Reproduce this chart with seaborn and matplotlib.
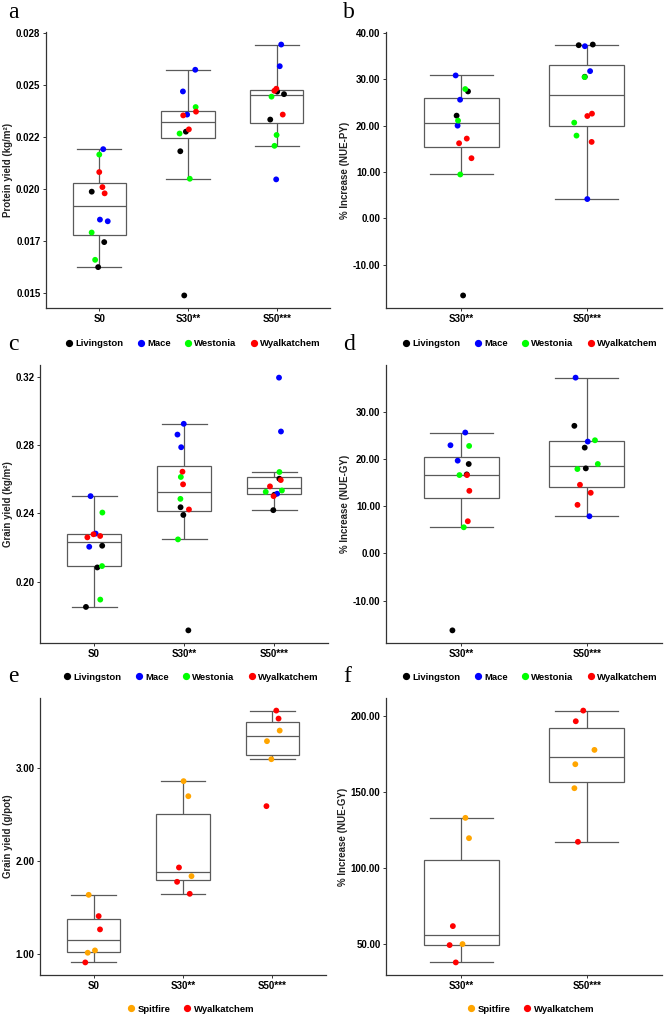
import numpy as np
import pandas as pd
import seaborn as sns
import matplotlib as mpl
mpl.use("Agg")
import matplotlib.pyplot as plt
from matplotlib.lines import Line2D

np.random.seed(7)

# cultivars / colours
cult4 = ["Livingston", "Mace", "Westonia", "Wyalkatchem"]
col4 = ["#000000", "#0000FF", "#00FF00", "#FF0000"]
cult2 = ["Spitfire", "Wyalkatchem"]
col2 = ["#FFA500", "#FF0000"]

trt3 = ["S0", "S30**", "S50***"]
trt2 = ["S30**", "S50***"]

# a: protein yield (kg/m2), per treatment, 3 reps per cultivar (cult4 order)
a_S0 = [0.01988, 0.01746, 0.01626, 0.02192, 0.01846, 0.01854,
        0.02166, 0.01792, 0.01661, 0.02082, 0.02010, 0.01980]
a_S30 = [0.02276, 0.02182, 0.01490, 0.02573, 0.02469, 0.02358,
         0.02394, 0.02267, 0.02050, 0.02372, 0.02354, 0.02287]
a_S50 = [0.02456, 0.02334, 0.02468, 0.02694, 0.02590, 0.02047,
         0.02444, 0.02260, 0.02208, 0.02482, 0.02472, 0.02358]

# b: % increase NUE-PY
b_S30 = [27.37, 22.14, -16.68, 30.82, 25.58, 19.98,
         27.88, 21.06, 9.44, 17.19, 16.18, 12.95]
b_S50 = [37.35, 37.49, 30.53, 37.13, 31.75, 4.13,
         30.46, 20.63, 17.83, 22.57, 22.06, 16.47]

# c: grain yield (kg/m2)
c_S0 = [0.2211, 0.2084, 0.1853, 0.2501, 0.2282, 0.2205,
        0.2405, 0.2092, 0.1896, 0.2278, 0.2268, 0.2260]
c_S30 = [0.2436, 0.2391, 0.1716, 0.2924, 0.2861, 0.2787,
         0.2613, 0.2485, 0.2248, 0.2644, 0.2570, 0.2423]
c_S50 = [0.2603, 0.2509, 0.2419, 0.3194, 0.2879, 0.2515,
         0.2642, 0.2534, 0.2526, 0.2595, 0.2558, 0.2501]

# d: % increase NUE-GY
d_S30 = [18.99, 16.78, -16.32, 25.67, 22.97, 19.70,
         22.82, 16.64, 5.56, 16.64, 13.30, 6.84]
d_S50 = [27.09, 22.47, 18.06, 37.32, 23.75, 7.90,
         24.03, 18.99, 17.92, 14.58, 12.88, 10.32]

# e: grain yield (g/pot), 3 reps per cultivar (cult2 order)
e_S0 = [1.634, 1.036, 1.011, 1.405, 1.262, 0.907]
e_S30 = [2.857, 2.695, 1.835, 1.928, 1.774, 1.645]
e_S50 = [3.401, 3.287, 3.093, 3.616, 3.530, 2.588]

# f: % increase NUE-GY (pot)
f_S30 = [132.87, 119.53, 50.00, 61.80, 49.34, 37.97]
f_S50 = [177.48, 168.08, 152.33, 203.28, 196.28, 117.13]


def make_df(groups, trts, cults):
    rows = []
    for t, vals in zip(trts, groups):
        for i, v in enumerate(vals):
            rows.append((t, cults[i // 3], v))
    return pd.DataFrame(rows, columns=["trt", "cult", "val"])


W, H = 664, 1017
fig = plt.figure(figsize=(W / 100, H / 100), dpi=100)
plt.rcParams["font.family"] = ["Liberation Sans", "DejaVu Sans"]
plt.rcParams["font.weight"] = "bold"


def add_ax(l, t, r, b):
    return fig.add_axes([l / W, 1 - b / H, (r - l) / W, (b - t) / H])


def panel(ax, df, trts, cults, cols, ylabel, ticks, labels):
    sns.boxplot(data=df, x="trt", y="val", order=trts, ax=ax, width=0.6,
                color="white", linecolor="#5a5a5a", linewidth=0.9,
                showfliers=False, whis=1.5, capwidths=0.5)
    sns.stripplot(data=df, x="trt", y="val", hue="cult", order=trts,
                  hue_order=cults, palette=cols, jitter=0.1, size=4.2,
                  linewidth=0, ax=ax, legend=False, zorder=3)
    lo, hi = df["val"].min(), df["val"].max()
    pad = 0.05 * (hi - lo)
    ax.set_ylim(lo - pad, hi + pad)
    ax.set_xlim(-0.6, len(trts) - 0.4)
    ax.set_yticks(ticks)
    ax.set_yticklabels(labels)
    ax.set_xlabel("")
    ax.set_ylabel(ylabel, fontsize=7, fontweight="bold", color="#222222",
                  labelpad=2)
    for s in ["top", "right"]:
        ax.spines[s].set_visible(False)
    for s in ["left", "bottom"]:
        ax.spines[s].set_color("#333333")
        ax.spines[s].set_linewidth(0.9)
    ax.tick_params(axis="both", length=2.5, width=0.7, color="#333333",
                   labelsize=7, pad=1.5)
    for lab in ax.get_xticklabels() + ax.get_yticklabels():
        lab.set_fontweight("bold")
    ax.set_facecolor("white")


def leg(cults, cols, cx, cy):
    hs = [Line2D([], [], marker="o", ls="", color=c, markersize=4.2) for c in cols]
    fig.legend(hs, cults, loc="center", bbox_to_anchor=(cx / W, 1 - cy / H),
               ncol=len(cults), frameon=False,
               handletextpad=0.1, columnspacing=1.2, handlelength=1.2,
               prop={"weight": "bold", "size": 6.8})


fmt2 = lambda v: ["%.2f" % x for x in v]

ax_a = add_ax(46, 32, 330, 308)
panel(ax_a, make_df([a_S0, a_S30, a_S50], trt3, cult4), trt3, cult4, col4,
      "Protein yield (kg/m²)", [0.015, 0.0175, 0.02, 0.0225, 0.025, 0.0275],
      ["0.015", "0.017", "0.020", "0.022", "0.025", "0.028"])

ax_b = add_ax(386, 32, 662, 308)
panel(ax_b, make_df([b_S30, b_S50], trt2, cult4), trt2, cult4, col4,
      "% Increase (NUE-PY)", [-10, 0, 10, 20, 30, 40],
      fmt2([-10, 0, 10, 20, 30, 40]))

ax_c = add_ax(40, 365, 328, 643)
panel(ax_c, make_df([c_S0, c_S30, c_S50], trt3, cult4), trt3, cult4, col4,
      "Grain yield (kg/m²)", [0.20, 0.24, 0.28, 0.32],
      fmt2([0.20, 0.24, 0.28, 0.32]))

ax_d = add_ax(386, 365, 662, 643)
panel(ax_d, make_df([d_S30, d_S50], trt2, cult4), trt2, cult4, col4,
      "% Increase (NUE-GY)", [-10, 0, 10, 20, 30],
      fmt2([-10, 0, 10, 20, 30]))

ax_e = add_ax(40, 698, 326, 975)
panel(ax_e, make_df([e_S0, e_S30, e_S50], trt3, cult2), trt3, cult2, col2,
      "Grain yield (g/pot)", [1, 2, 3], fmt2([1, 2, 3]))

ax_f = add_ax(386, 698, 662, 975)
panel(ax_f, make_df([f_S30, f_S50], trt2, cult2), trt2, cult2, col2,
      "% Increase (NUE-GY)", [50, 100, 150, 200], fmt2([50, 100, 150, 200]))

# legends
leg(cult4, col4, 192, 344)
leg(cult4, col4, 529, 344)
leg(cult4, col4, 190, 677)
leg(cult4, col4, 529, 677)
leg(cult2, col2, 190, 1009)
leg(cult2, col2, 530, 1009)

# panel letters
for txt, x, y in [("a", 8, 18), ("b", 343, 18), ("c", 8, 350),
                  ("d", 343, 350), ("e", 8, 682), ("f", 343, 682)]:
    fig.text(x / W, 1 - y / H, txt, fontsize=17, fontweight="normal",
             family=["Liberation Serif", "DejaVu Serif"], va="baseline")

fig.savefig("out.png", dpi=100, facecolor="white")
